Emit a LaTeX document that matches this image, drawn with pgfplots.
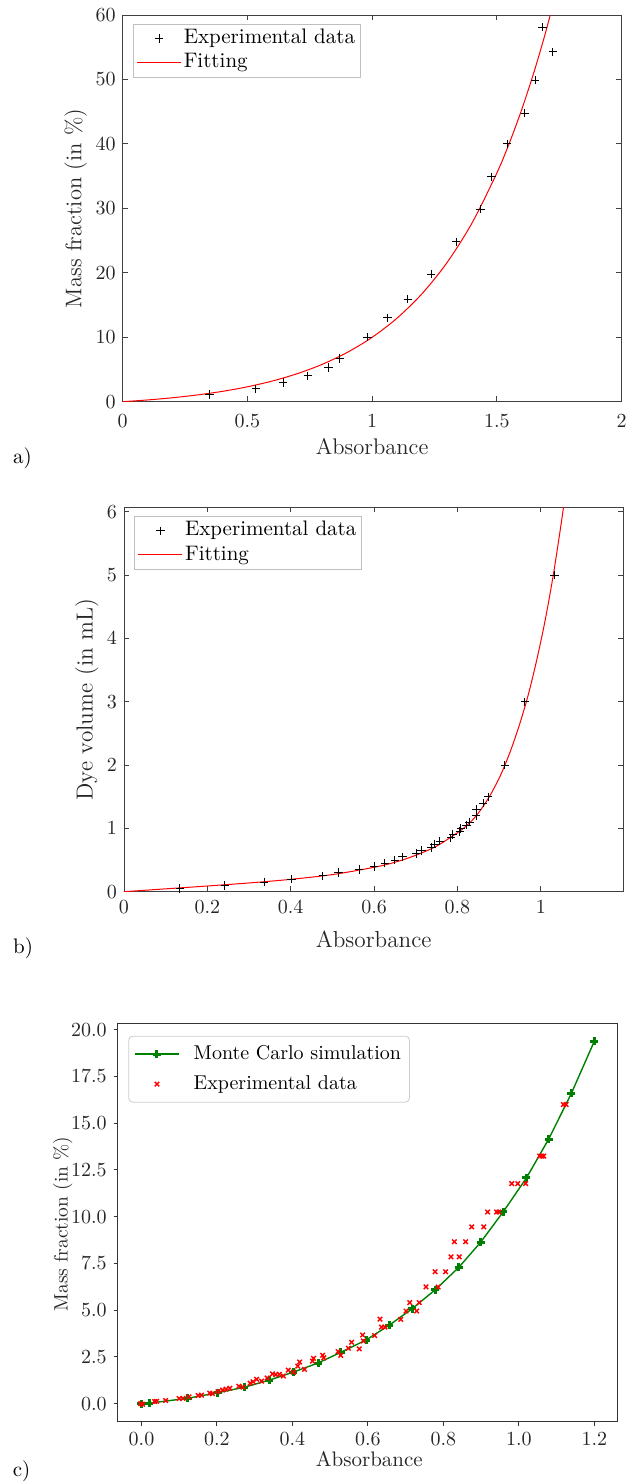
\documentclass[border=0pt]{standalone}
\usepackage{pgfplots}
\pgfplotsset{compat=1.18}
\definecolor{mcgreen}{RGB}{0,128,0}
\pgfplotsset{
  markleg/.style={legend image code/.code={\path[draw=none,fill=none] (0pt,-3pt) rectangle (22pt,3pt);
    \draw[##1] plot coordinates {(11pt,0pt)};}},
  lineleg/.style={legend image code/.code={\path[draw=none,fill=none] (0pt,-3pt) rectangle (22pt,3pt);
    \draw[##1, draw=red, line width=0.6pt] (0pt,0.3pt) -- (22pt,0.3pt);}},
  markleg c/.style={legend image code/.code={\path[draw=none,fill=none] (0pt,-3pt) rectangle (21.6pt,3pt);
    \draw[##1] plot coordinates {(10.8pt,0pt)};}},
  linemarkleg c/.style={legend image code/.code={\draw[##1] (0pt,0pt) -- (21.6pt,0pt);
    \draw[##1] plot coordinates {(10.8pt,0pt)};}},
  matstyle/.style={
    scale only axis,
    anchor=south west,
    axis line style={black!75, line width=0.4pt},
    every tick/.style={black!75, line width=0.4pt},
    major tick length=2.6pt,
    tick align=inside,
    ticklabel style={font=\fontsize{10}{12}\selectfont, text=black!85},
    legend cell align=left,
    legend style={at={(0.021,0.977)}, anchor=north west, draw=black!25,
      line width=0.4pt, fill=white, font=\fontsize{10.5}{12}\selectfont,
      inner xsep=1.5pt, inner ysep=1pt, row sep=0pt,
      nodes={inner sep=1pt, text height=7.6pt, text depth=2.6pt}},
  },
}
\begin{document}
\begin{tikzpicture}
\path[use as bounding box] (0,0) rectangle (317pt,742pt);

% a) mass fraction vs absorbance
\begin{axis}[matstyle, at={(61.35pt,541.15pt)}, width=249.4pt, height=193.35pt,
  xmin=0, xmax=2, ymin=0, ymax=60,
  xtick={0,0.5,1,1.5,2}, ytick={0,10,20,30,40,50,60},
  xticklabel style={yshift=-3pt},
  xlabel={Absorbance}, ylabel={Mass fraction (in \%)},
  label style={font=\fontsize{11.3}{13}\selectfont, text=black!85},
  xlabel style={at={(axis description cs:0.5,-0.117)}, anchor=center},
  ylabel style={at={(axis description cs:-0.094,0.5)}, anchor=center},
]
\addplot[only marks, mark=+, mark size=2.1pt, black, line width=0.45pt, markleg] coordinates {
  (0.348,1.1)(0.534,2.0)(0.643,3.0)(0.742,4.0)(0.825,5.3)(0.871,6.7)
  (0.981,10.0)(1.062,13.0)(1.143,15.9)(1.237,19.8)(1.337,24.8)(1.434,29.9)
  (1.479,34.9)(1.541,40.0)(1.612,44.8)(1.654,49.9)(1.683,58.1)(1.725,54.3)
};
\addlegendentry{Experimental data}
\addplot[red, line width=0.5pt, smooth, lineleg] coordinates {
  (0,0)(0.1,0.270)(0.2,0.614)(0.3,1.050)(0.4,1.605)(0.5,2.310)(0.6,3.208)
  (0.7,4.348)(0.8,5.797)(0.9,7.641)(1.0,9.983)(1.1,12.961)(1.2,16.747)
  (1.3,21.56)(1.4,27.68)(1.5,35.46)(1.55,40.10)(1.6,45.34)(1.65,51.26)
  (1.7,57.91)(1.75,65.43)
};
\addlegendentry{Fitting}
\end{axis}

% b) dye volume vs absorbance
\begin{axis}[matstyle, at={(62pt,296.15pt)}, width=249.65pt, height=192.2pt,
  xmin=0, xmax=1.198, ymin=0, ymax=6.07,
  xtick={0,0.2,0.4,0.6,0.8,1}, ytick={0,1,2,3,4,5,6},
  xticklabel style={yshift=-1pt},
  xlabel={Absorbance}, ylabel={Dye volume (in mL)},
  label style={font=\fontsize{11.6}{13}\selectfont, text=black!85},
  xlabel style={at={(axis description cs:0.5,-0.123)}, anchor=center},
  ylabel style={at={(axis description cs:-0.0745,0.5)}, anchor=center},
]
\addplot[only marks, mark=+, mark size=2.1pt, black, line width=0.45pt, markleg] coordinates {
  (0.134,0.05)(0.242,0.1)(0.336,0.15)(0.402,0.2)(0.477,0.25)(0.515,0.3)
  (0.564,0.35)(0.600,0.4)(0.626,0.45)(0.650,0.5)(0.668,0.55)(0.701,0.6)
  (0.714,0.65)(0.738,0.7)(0.745,0.75)(0.758,0.8)(0.784,0.85)(0.789,0.9)
  (0.806,0.95)(0.808,1.0)(0.822,1.05)(0.829,1.1)(0.845,1.2)(0.846,1.3)
  (0.862,1.4)(0.874,1.5)(0.914,2.0)(0.962,3.0)(1.033,5.0)
};
\addlegendentry{Experimental data}
\addplot[red, line width=0.5pt, smooth, lineleg] coordinates {
  (0,0)(0.1,0.045)(0.2,0.09)(0.3,0.138)(0.4,0.195)(0.5,0.27)(0.6,0.385)
  (0.65,0.465)(0.7,0.575)(0.75,0.72)(0.8,0.93)(0.82,1.03)(0.84,1.16)
  (0.86,1.33)(0.88,1.54)(0.9,1.79)(0.914,2.0)(0.93,2.27)(0.95,2.66)
  (0.97,3.11)(0.99,3.65)(1.01,4.27)(1.03,5.0)(1.05,5.86)(1.06,6.34)
};
\addlegendentry{Fitting}
\end{axis}

% c) Monte Carlo vs experiment
\begin{axis}[scale only axis, anchor=south west,
  at={(58.85pt,31.15pt)}, width=249.65pt, height=199.35pt,
  xmin=-0.063, xmax=1.26, ymin=-0.97, ymax=20.36,
  xtick={0,0.2,0.4,0.6,0.8,1.0,1.2},
  ytick={0,2.5,5,7.5,10,12.5,15,17.5,20},
  tick align=outside, tick pos=left, major tick length=2pt,
  axis line style={black!80, line width=0.5pt},
  every tick/.style={black!80, line width=0.5pt},
  ticklabel style={font=\fontsize{10}{12}\selectfont, text=black!85},
  xticklabel style={/pgf/number format/.cd, fixed, fixed zerofill, precision=1},
  yticklabel style={/pgf/number format/.cd, fixed, fixed zerofill, precision=1},
  xlabel={Absorbance}, ylabel={Mass fraction (in \%)},
  xlabel style={font=\fontsize{10.5}{12}\selectfont, text=black!85,
    at={(axis description cs:0.504,-0.0936)}, anchor=center},
  ylabel style={font=\fontsize{9.7}{12}\selectfont, text=black!85,
    at={(axis description cs:-0.11,0.496)}, anchor=center},
  legend cell align=left,
  legend style={at={(0.0212,0.968)}, anchor=north west, draw=black!20,
    rounded corners=2pt, fill=white, font=\fontsize{10}{12}\selectfont,
    inner xsep=3pt, inner ysep=1.5pt, row sep=0pt,
    nodes={inner sep=1.2pt, text height=8.8pt, text depth=3.8pt},
    /tikz/every odd column/.append style={column sep=6pt}},
]
\addplot[color=mcgreen, line width=0.7pt, mark=+, mark size=2pt,
  mark options={line width=1.5pt}, linemarkleg c] coordinates {
  (0,0)(0.02,0.02)(0.122,0.28)(0.2015,0.58)(0.272,0.87)(0.338,1.25)
  (0.402,1.68)(0.468,2.17)(0.528,2.74)(0.595,3.40)(0.657,4.20)(0.717,5.07)
  (0.778,6.08)(0.841,7.29)(0.899,8.64)(0.959,10.27)(1.020,12.07)
  (1.079,14.15)(1.139,16.59)(1.2,19.39)
};
\addlegendentry{Monte Carlo simulation}
\addplot[only marks, red, mark=x, mark size=1.6pt, mark options={line width=0.7pt},
  markleg c] coordinates {
  (-0.002,0.0)(0.003,-0.04)(0.035,0.11)(0.04,0.12)(0.064,0.16)(0.10,0.27)
  (0.11,0.28)(0.126,0.36)(0.15,0.43)(0.159,0.45)(0.181,0.56)(0.188,0.53)
  (0.203,0.64)(0.215,0.73)(0.224,0.77)(0.234,0.82)(0.258,0.93)(0.269,0.88)
  (0.288,1.09)(0.296,1.17)(0.305,1.30)(0.318,1.20)(0.333,1.37)(0.347,1.59)
  (0.356,1.55)(0.365,1.56)(0.376,1.47)(0.389,1.79)(0.403,1.68)(0.414,2.0)
  (0.419,2.22)(0.432,1.83)(0.453,2.27)(0.456,2.42)(0.480,2.58)(0.483,2.45)
  (0.521,2.78)(0.528,2.58)(0.548,2.96)(0.557,3.28)(0.577,2.93)(0.586,3.67)
  (0.588,3.35)(0.618,3.64)(0.632,4.52)(0.636,4.09)(0.645,4.09)(0.687,4.50)
  (0.701,4.95)(0.711,5.40)(0.729,4.95)(0.736,5.40)(0.754,6.24)(0.786,6.24)
  (0.778,7.05)(0.806,7.05)(0.820,7.85)(0.842,7.85)(0.829,8.66)(0.859,8.66)
  (0.875,9.45)(0.907,9.45)(0.917,10.25)(0.941,10.25)(0.947,10.25)
  (0.981,11.77)(0.997,11.77)(1.018,11.77)(1.055,13.24)(1.061,13.24)
  (1.066,13.24)(1.118,16.0)(1.125,16.0)
};
\addlegendentry{Experimental data}
\end{axis}

\node[font=\fontsize{10.5}{12}\selectfont] at (11.2pt,513pt) {a)};
\node[font=\fontsize{10.5}{12}\selectfont] at (11.5pt,268pt) {b)};
\node[font=\fontsize{10.5}{12}\selectfont] at (10.75pt,6.5pt) {c)};
\end{tikzpicture}
\end{document}
